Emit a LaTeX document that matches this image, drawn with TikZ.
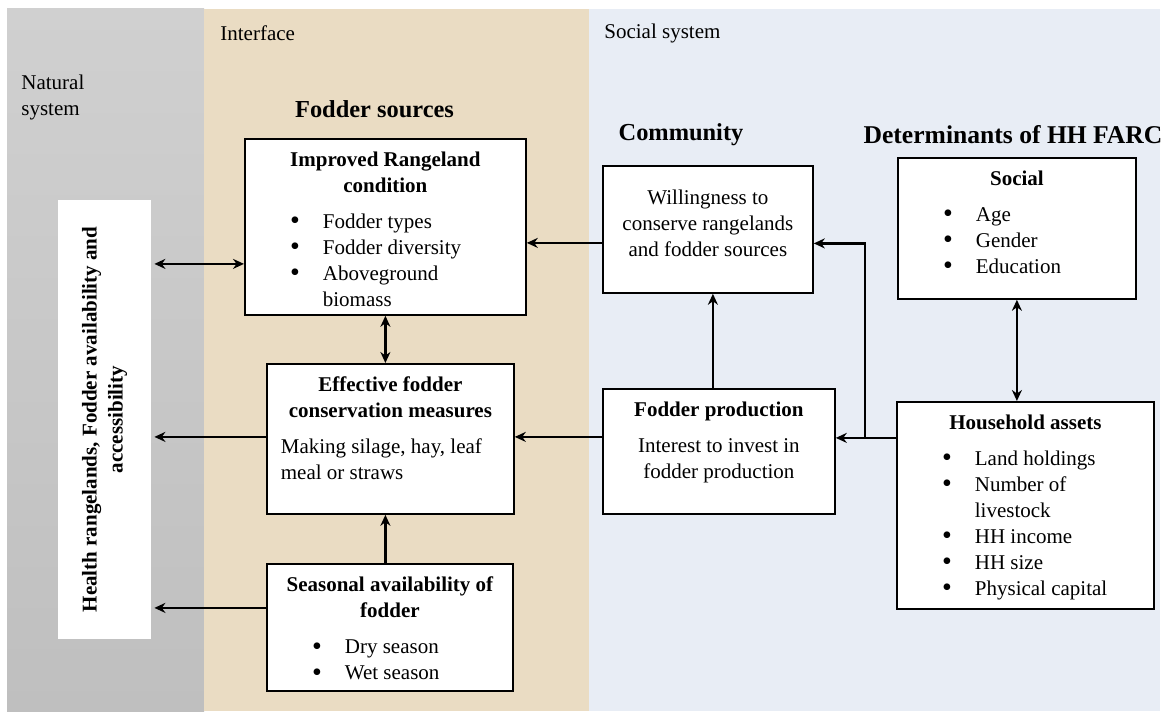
\documentclass[tikz,border=0pt]{standalone}
\usepackage{fontspec}
\setmainfont{Liberation Serif}
\usetikzlibrary{arrows.meta}

\definecolor{naturalgray}{HTML}{D0D0D0}
\definecolor{naturalgraylow}{HTML}{BFBFBF}
\definecolor{interfacetan}{HTML}{EADCC3}
\definecolor{socialblue}{HTML}{E8EDF5}

\newcommand{\bigbullet}{\raisebox{-0.7pt}{\fontsize{14}{13}\selectfont\textbullet}}

\newenvironment{factlist}{%
  \begin{list}{\bigbullet}{%
    \setlength{\leftmargin}{39pt}%
    \setlength{\labelsep}{11.5pt}%
    \setlength{\labelwidth}{20pt}%
    \setlength{\itemsep}{0pt}\setlength{\parsep}{0pt}%
    \setlength{\topsep}{0pt}\setlength{\partopsep}{0pt}}}%
  {\end{list}}

\newcommand{\cardbody}[3]{\parbox[t][#2][t]{#1}{#3}}
\newcommand{\cardtitle}[1]{\vspace*{6.5pt}{\centering\bfseries #1\par}\vspace{5pt}}

\tikzset{
  panellabel/.style={anchor=west, inner sep=0pt, align=left},
  heading/.style={inner sep=0pt, font=\fontsize{12.2}{14}\selectfont\bfseries},
  card/.style={draw, line width=0.9pt, fill=white, anchor=north west, inner sep=0pt},
  outcome/.style={fill=white, inner sep=0pt, align=center,
    minimum width=219.5pt, minimum height=46.5pt, font=\fontsize{10.5}{13}\selectfont\bfseries},
  link/.style={line width=1.1pt, -{Stealth[length=5.5pt, width=5pt]}},
  duplex/.style={line width=1.1pt, {Stealth[length=5.5pt, width=5pt]}-{Stealth[length=5.5pt, width=5pt]}}
}

\begin{document}
\begin{tikzpicture}[x=0.5pt, y=-0.5pt, font=\fontsize{10.5}{13}\selectfont]
    \useasboundingbox (0,0) rectangle (1167,717);

    \shade [top color=naturalgray, bottom color=naturalgraylow] (7,9) rectangle (204,711);
    \fill [interfacetan] (204,9) rectangle (589,711);
    \fill [socialblue] (589,9) rectangle (1160,711);

    \node [panellabel] (natural) at (21,97) {Natural\\system};
    \node [panellabel] (interface) at (220,33) {Interface};
    \node [panellabel] (socialsys) at (604,33) {Social system};

    \node [heading] (sources) at (374.5,109) {Fodder sources};
    \node [heading] (community) at (681,135) {Community};
    \node [heading, font=\fontsize{12.8}{15}\selectfont\bfseries] (determinants) at (1013,135) {Determinants of HH FARC};

    \node [outcome, rotate=90] (outcome) at (104.5,419.5) {Health rangelands, Fodder availability and\\accessibility};

    \node [card] (improved) at (244,138) {\cardbody{140.5pt}{88pt}{%
        \cardtitle{Improved Rangeland\\condition}
        \begin{factlist}
          \item Fodder types
          \item Fodder diversity
          \item Aboveground\\biomass
        \end{factlist}}};

    \node [card] (effective) at (266,363) {\cardbody{123.5pt}{75pt}{%
        \cardtitle{Effective fodder\\conservation measures}
        {\leftskip=7pt Making silage, hay, leaf\\meal or straws\par}}};

    \node [card] (seasonal) at (266,563) {\cardbody{123pt}{63.5pt}{%
        \cardtitle{Seasonal availability of\\fodder}
        \begin{factlist}
          \item Dry season
          \item Wet season
        \end{factlist}}};

    \node [card] (willingness) at (602,165) {\cardbody{105pt}{63.5pt}{%
        \vspace*{12pt}{\centering Willingness to\\conserve rangelands\\and fodder sources\par}}};

    \node [card] (fodderprod) at (602,388) {\cardbody{116pt}{62.5pt}{%
        \cardtitle{Fodder production}
        {\centering Interest to invest in\\fodder production\par}}};

    \node [card] (social) at (897,157) {\cardbody{119pt}{70.5pt}{%
        \cardtitle{Social}
        \begin{factlist}
          \item Age
          \item Gender
          \item Education
        \end{factlist}}};

    \node [card] (household) at (896,401) {\cardbody{128.5pt}{103.5pt}{%
        \cardtitle{Household assets}
        \begin{factlist}
          \item Land holdings
          \item Number of\\livestock
          \item HH income
          \item HH size
          \item Physical capital
        \end{factlist}}};

    \path ([yshift=-18.5pt]improved.west) coordinate (rangeport)
          ([yshift=1pt]effective.west) coordinate (conserveport)
          ([yshift=9.75pt]seasonal.west) coordinate (seasonport)
          ([yshift=-6.75pt]willingness.west) coordinate (willout)
          ([yshift=-7pt]willingness.east) coordinate (willin)
          ([yshift=7.25pt]fodderprod.west) coordinate (prodport)
          ([xshift=-3pt]fodderprod.north) coordinate (prodrise)
          ([yshift=33.75pt]household.west) coordinate (assetport);
    \coordinate (split) at (865,437);

    \draw [duplex, shorten >=1.5pt] (rangeport) -- (rangeport -| outcome.south);
    \draw [link, shorten >=1.5pt] (conserveport) -- (conserveport -| outcome.south);
    \draw [link, shorten >=1.5pt] (seasonport) -- (seasonport -| outcome.south);

    \draw [duplex] (improved.south) -- (improved.south |- effective.north);
    \draw [link] (seasonal.north -| improved.south) -- (improved.south |- effective.south);

    \draw [link] (willout) -- (willout -| improved.east);
    \draw [link] (prodport) -- (prodport -| effective.east);
    \draw [link] (prodrise) -- (prodrise |- willingness.south);

    \draw [link] (assetport) -- (assetport -| fodderprod.east);
    \draw [link] (split) |- (willin);

    \draw [duplex] (social.south) -- (social.south |- household.north);
\end{tikzpicture}
\end{document}
